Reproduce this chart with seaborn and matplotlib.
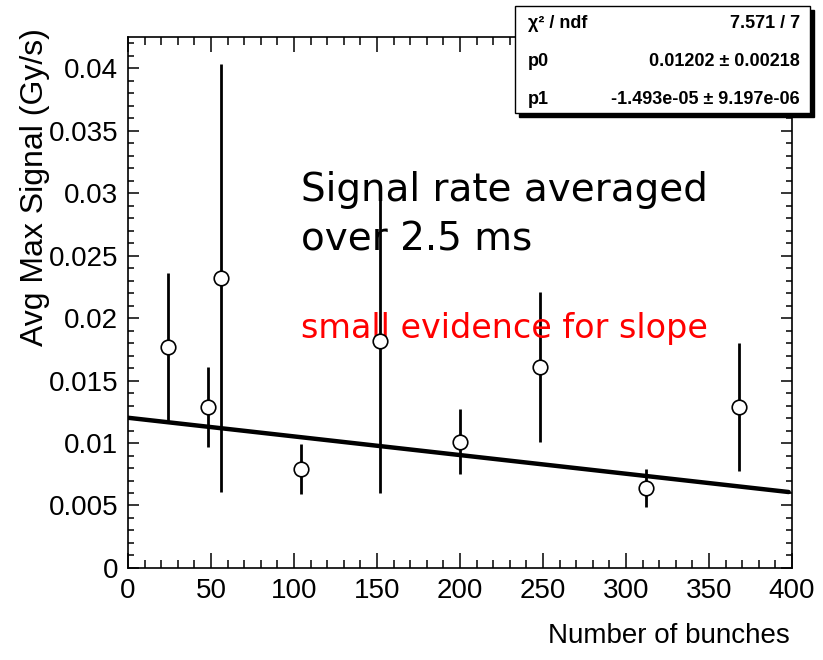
import seaborn as sns
import matplotlib.pyplot as plt
import matplotlib.ticker as mticker
from matplotlib.patches import Rectangle
import pandas as pd
import numpy as np

# data
bunches = [24, 48, 56, 104, 152, 200, 248, 312, 368]
avg_signal = [0.0177, 0.0129, 0.0232, 0.0079, 0.0182, 0.0101, 0.0161, 0.0064, 0.0129]
signal_err = [0.0059, 0.0032, 0.0171, 0.0020, 0.0122, 0.0026, 0.0060, 0.0015, 0.0051]

# fit result (pol1) from the stats box
p0, p0_err = 0.01202, 0.00218
p1, p1_err = -1.493e-05, 9.197e-06
chi2, ndf = 7.571, 7
fit_range = [0, 398]

x_ticks = [0, 50, 100, 150, 200, 250, 300, 350, 400]
y_ticks = [0, 0.005, 0.01, 0.015, 0.02, 0.025, 0.03, 0.035, 0.04]

df = pd.DataFrame({'bunches': bunches, 'signal': avg_signal, 'err': signal_err})
fit = pd.DataFrame({'bunches': fit_range})
fit['signal'] = p0 + p1 * fit['bunches']

sns.set_theme(style='ticks')
plt.rcParams['font.family'] = ['Liberation Sans', 'DejaVu Sans']
plt.rcParams['text.color'] = 'black'
plt.rcParams['axes.labelcolor'] = 'black'
plt.rcParams['xtick.color'] = 'black'
plt.rcParams['ytick.color'] = 'black'

fig = plt.figure(figsize=(8.23, 6.6), dpi=100)
ax = fig.add_axes([0.1555, 0.1394, 0.8068, 0.8045])

# fit line
sns.lineplot(data=fit, x='bunches', y='signal', color='black', linewidth=3.2, ax=ax)
# error bars + open markers
ax.errorbar(df['bunches'], df['signal'], yerr=df['err'], fmt='none',
            ecolor='black', elinewidth=2, capsize=0, zorder=3)
sns.scatterplot(data=df, x='bunches', y='signal', marker='o', s=110,
                facecolor='white', edgecolor='black', linewidth=1.2, zorder=4, ax=ax)

ax.set_xlim(0, 400)
ax.set_ylim(0, 0.04248)
ax.set_xticks(x_ticks)
ax.set_yticks(y_ticks)
ax.xaxis.set_minor_locator(mticker.MultipleLocator(10))
ax.yaxis.set_minor_locator(mticker.MultipleLocator(0.001))
ax.yaxis.set_major_formatter(mticker.FuncFormatter(lambda v, _: '%g' % v))
ax.tick_params(which='both', direction='in', top=True, right=True, color='black', width=1.1)
ax.tick_params(axis='x', which='major', length=11, labelsize=20, pad=7)
ax.tick_params(axis='x', which='minor', length=5.5)
ax.tick_params(axis='y', which='major', length=8, labelsize=20, pad=7)
ax.tick_params(axis='y', which='minor', length=4)
for sp in ax.spines.values():
    sp.set_linewidth(1.2)
    sp.set_color('black')

ax.set_xlabel('')
ax.set_ylabel('')
W, H = 823, 660
fig.text(790 / W, 1 - 636 / H, 'Number of bunches', fontsize=20,
         ha='right', va='center')
fig.text(35 / W, 1 - 28 / H, 'Avg Max Signal (Gy/s)', fontsize=23,
         rotation=90, ha='center', va='top')

# annotations
ax.text(104.5, 0.0294, 'Signal rate averaged', fontsize=28, family='DejaVu Sans',
        va='baseline', ha='left')
ax.text(104.5, 0.0254, 'over 2.5 ms', fontsize=28, family='DejaVu Sans',
        va='baseline', ha='left')
ax.text(104.5, 0.0184, 'small evidence for slope', fontsize=24, family='DejaVu Sans',
        va='baseline', ha='left', color='red')

# stats box (fit results)
bx0, bx1, by0, by1 = 515, 810, 6, 113
fig.patches.append(Rectangle(((bx0 + 4) / W, 1 - (by1 + 4) / H), (bx1 - bx0) / W,
                             (by1 - by0) / H, transform=fig.transFigure,
                             facecolor='black', edgecolor='black'))
fig.patches.append(Rectangle((bx0 / W, 1 - by1 / H), (bx1 - bx0) / W,
                             (by1 - by0) / H, transform=fig.transFigure,
                             facecolor='white', edgecolor='black', linewidth=1))
rows = [('\u03c7\u00b2 / ndf', f'{chi2:g} / {ndf}', 24),
        ('p0', f'{p0:.5f} \u00b1 {p0_err:.5f}', 62),
        ('p1', f'{p1:.3e} \u00b1 {p1_err:.3e}', 99)]
for left, right, yy in rows:
    fig.text(528 / W, 1 - yy / H, left, fontsize=13, fontweight='bold',
             ha='left', va='center')
    fig.text(800 / W, 1 - yy / H, right, fontsize=13, fontweight='bold',
             ha='right', va='center')

fig.savefig('out.png', dpi=100)
